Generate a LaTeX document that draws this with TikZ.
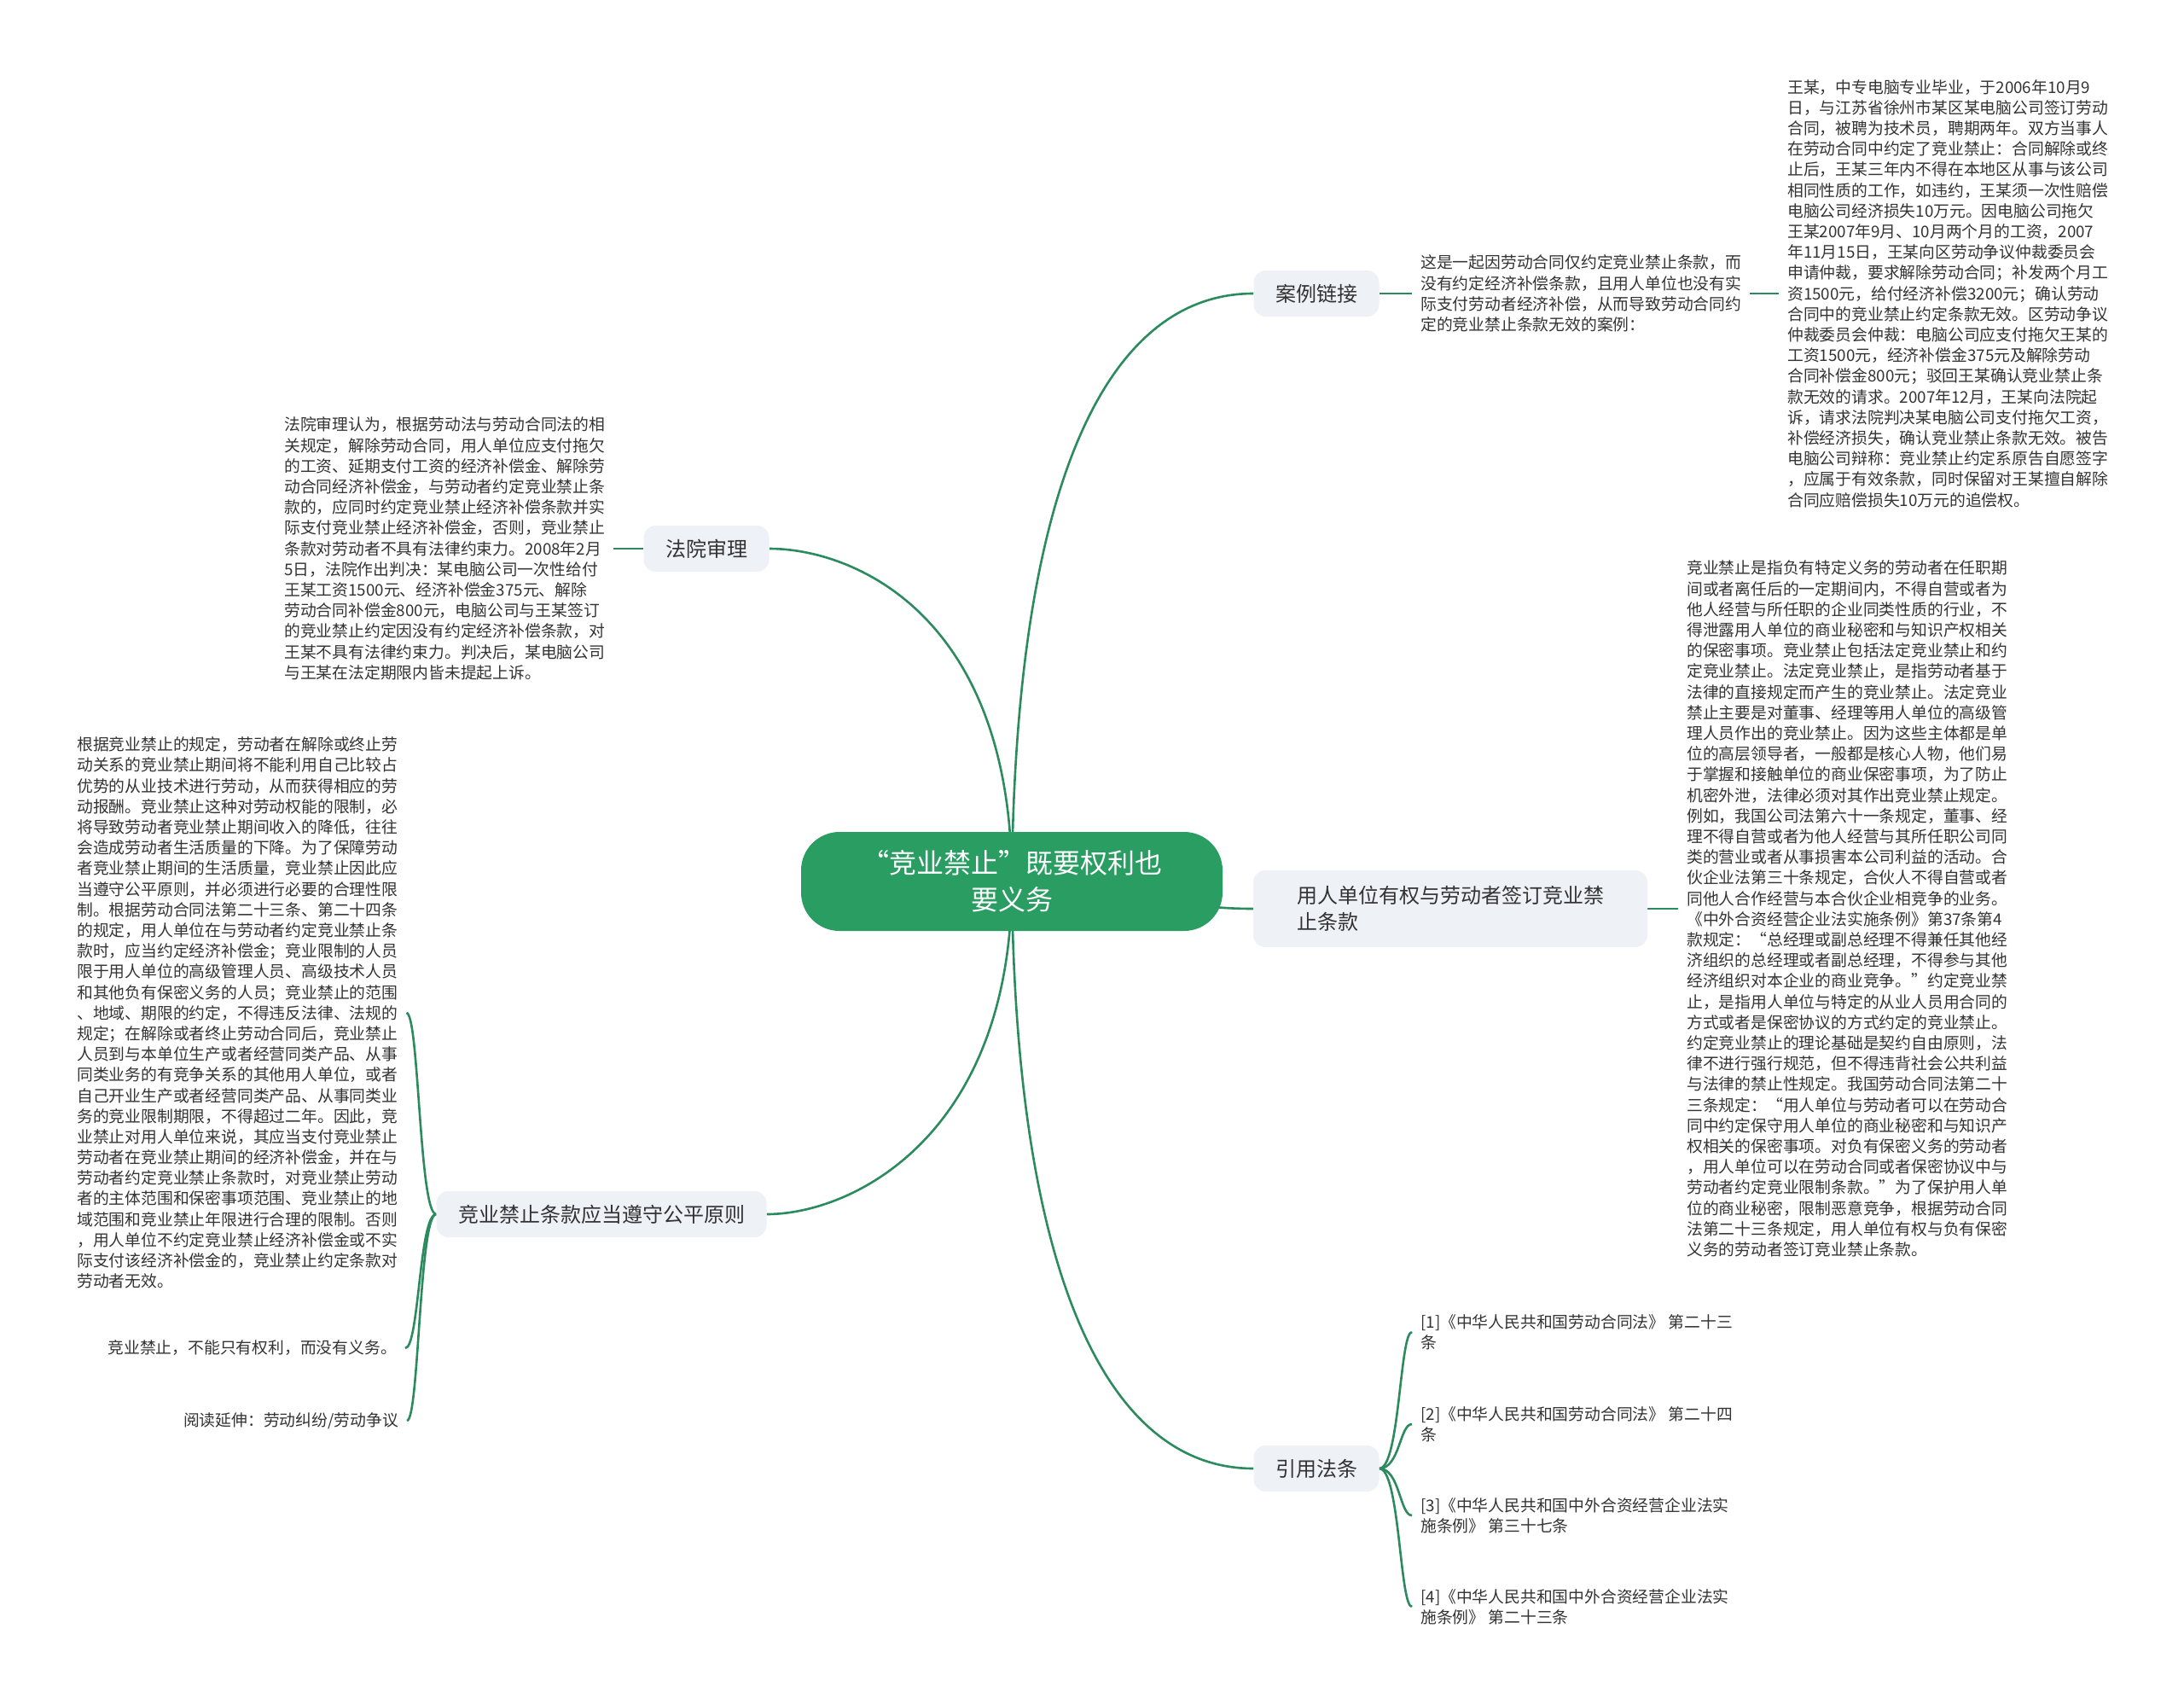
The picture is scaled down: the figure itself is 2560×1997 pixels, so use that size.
\documentclass[tikz,border=0pt]{standalone}
\usepackage{fontspec}
\setmainfont{Noto Sans CJK SC}
\usetikzlibrary{calc}
\pgfdeclarelayer{paper}
\pgfdeclarelayer{bg}
\pgfsetlayers{paper,bg,main}
\definecolor{rootgreen}{HTML}{2A9D63}
\definecolor{linegreen}{HTML}{2B8A5E}
\definecolor{branchfill}{HTML}{EEF1F6}
\definecolor{txt}{HTML}{333333}
\begin{document}
\begin{tikzpicture}[x=1pt,y=-1pt,
  rootbox/.style={fill=rootgreen, rounded corners=45pt, minimum width=494pt, minimum height=116pt, text=white, align=center, font=\fontsize{32}{43}\selectfont, inner sep=0pt},
  branchbox/.style={fill=branchfill, rounded corners=14pt, minimum height=54pt, text=txt, font=\fontsize{24}{31}\selectfont, inner sep=0pt, align=left},
  leaf/.style={text=txt, font=\fontsize{18.8}{24.2}\selectfont, align=left, inner xsep=10pt, inner ysep=0pt},
  conn/.style={draw=linegreen, line width=2.6pt},
]
\begin{pgfonlayer}{paper}
\fill[white] (0,0) rectangle (2560,1997);
\end{pgfonlayer}
\useasboundingbox (0,0) rectangle (2560,1997);

% root and branches
\node[rootbox] (root) at (1186,1033) {“竞业禁止”既要权利也\\要义务};
\node[branchbox, minimum width=147pt] (case) at (1543,344) {案例链接};
\node[branchbox, minimum width=147pt] (court) at (828,643) {法院审理};
\node[branchbox, minimum width=462pt, minimum height=90pt] (employer) at (1700,1065) {用人单位有权与劳动者签订竞业禁\\止条款};
\node[branchbox, minimum width=387pt] (fair) at (705,1423) {竞业禁止条款应当遵守公平原则};
\node[branchbox, minimum width=147pt] (cite) at (1543,1721) {引用法条};

% leaves
\node[leaf, anchor=west] (caseMid) at (1655,344) {这是一起因劳动合同仅约定竞业禁止条款，而\\没有约定经济补偿条款，且用人单位也没有实\\际支付劳动者经济补偿，从而导致劳动合同约\\定的竞业禁止条款无效的案例：};
\node[leaf, anchor=west] (caseText) at (2085,344) {王某，中专电脑专业毕业，于2006年10月9\\日，与江苏省徐州市某区某电脑公司签订劳动\\合同，被聘为技术员，聘期两年。双方当事人\\在劳动合同中约定了竞业禁止：合同解除或终\\止后，王某三年内不得在本地区从事与该公司\\相同性质的工作，如违约，王某须一次性赔偿\\电脑公司经济损失10万元。因电脑公司拖欠\\王某2007年9月、10月两个月的工资，2007\\年11月15日，王某向区劳动争议仲裁委员会\\申请仲裁，要求解除劳动合同；补发两个月工\\资1500元，给付经济补偿3200元；确认劳动\\合同中的竞业禁止约定条款无效。区劳动争议\\仲裁委员会仲裁：电脑公司应支付拖欠王某的\\工资1500元，经济补偿金375元及解除劳动\\合同补偿金800元；驳回王某确认竞业禁止条\\款无效的请求。2007年12月，王某向法院起\\诉，请求法院判决某电脑公司支付拖欠工资，\\补偿经济损失，确认竞业禁止条款无效。被告\\电脑公司辩称：竞业禁止约定系原告自愿签字\\，应属于有效条款，同时保留对王某擅自解除\\合同应赔偿损失10万元的追偿权。};
\node[leaf, anchor=west] (courtText) at (323,643) {法院审理认为，根据劳动法与劳动合同法的相\\关规定，解除劳动合同，用人单位应支付拖欠\\的工资、延期支付工资的经济补偿金、解除劳\\动合同经济补偿金，与劳动者约定竞业禁止条\\款的，应同时约定竞业禁止经济补偿条款并实\\际支付竞业禁止经济补偿金，否则，竞业禁止\\条款对劳动者不具有法律约束力。2008年2月\\5日，法院作出判决：某电脑公司一次性给付\\王某工资1500元、经济补偿金375元、解除\\劳动合同补偿金800元，电脑公司与王某签订\\的竞业禁止约定因没有约定经济补偿条款，对\\王某不具有法律约束力。判决后，某电脑公司\\与王某在法定期限内皆未提起上诉。};
\node[leaf, anchor=west] (empText) at (1967,1065) {竞业禁止是指负有特定义务的劳动者在任职期\\间或者离任后的一定期间内，不得自营或者为\\他人经营与所任职的企业同类性质的行业，不\\得泄露用人单位的商业秘密和与知识产权相关\\的保密事项。竞业禁止包括法定竞业禁止和约\\定竞业禁止。法定竞业禁止，是指劳动者基于\\法律的直接规定而产生的竞业禁止。法定竞业\\禁止主要是对董事、经理等用人单位的高级管\\理人员作出的竞业禁止。因为这些主体都是单\\位的高层领导者，一般都是核心人物，他们易\\于掌握和接触单位的商业保密事项，为了防止\\机密外泄，法律必须对其作出竞业禁止规定。\\例如，我国公司法第六十一条规定，董事、经\\理不得自营或者为他人经营与其所任职公司同\\类的营业或者从事损害本公司利益的活动。合\\伙企业法第三十条规定，合伙人不得自营或者\\同他人合作经营与本合伙企业相竞争的业务。\\《中外合资经营企业法实施条例》第37条第4\\款规定：“总经理或副总经理不得兼任其他经\\济组织的总经理或者副总经理，不得参与其他\\经济组织对本企业的商业竞争。”约定竞业禁\\止，是指用人单位与特定的从业人员用合同的\\方式或者是保密协议的方式约定的竞业禁止。\\约定竞业禁止的理论基础是契约自由原则，法\\律不进行强行规范，但不得违背社会公共利益\\与法律的禁止性规定。我国劳动合同法第二十\\三条规定：“用人单位与劳动者可以在劳动合\\同中约定保守用人单位的商业秘密和与知识产\\权相关的保密事项。对负有保密义务的劳动者\\，用人单位可以在劳动合同或者保密协议中与\\劳动者约定竞业限制条款。”为了保护用人单\\位的商业秘密，限制恶意竞争，根据劳动合同\\法第二十三条规定，用人单位有权与负有保密\\义务的劳动者签订竞业禁止条款。};
\node[leaf, anchor=west] (fairText) at (80,1187) {根据竞业禁止的规定，劳动者在解除或终止劳\\动关系的竞业禁止期间将不能利用自己比较占\\优势的从业技术进行劳动，从而获得相应的劳\\动报酬。竞业禁止这种对劳动权能的限制，必\\将导致劳动者竞业禁止期间收入的降低，往往\\会造成劳动者生活质量的下降。为了保障劳动\\者竞业禁止期间的生活质量，竞业禁止因此应\\当遵守公平原则，并必须进行必要的合理性限\\制。根据劳动合同法第二十三条、第二十四条\\的规定，用人单位在与劳动者约定竞业禁止条\\款时，应当约定经济补偿金；竞业限制的人员\\限于用人单位的高级管理人员、高级技术人员\\和其他负有保密义务的人员；竞业禁止的范围\\、地域、期限的约定，不得违反法律、法规的\\规定；在解除或者终止劳动合同后，竞业禁止\\人员到与本单位生产或者经营同类产品、从事\\同类业务的有竞争关系的其他用人单位，或者\\自己开业生产或者经营同类产品、从事同类业\\务的竞业限制期限，不得超过二年。因此，竞\\业禁止对用人单位来说，其应当支付竞业禁止\\劳动者在竞业禁止期间的经济补偿金，并在与\\劳动者约定竞业禁止条款时，对竞业禁止劳动\\者的主体范围和保密事项范围、竞业禁止的地\\域范围和竞业禁止年限进行合理的限制。否则\\，用人单位不约定竞业禁止经济补偿金或不实\\际支付该经济补偿金的，竞业禁止约定条款对\\劳动者无效。};
\node[leaf, anchor=east] (fairNote) at (475,1580) {竞业禁止，不能只有权利，而没有义务。};
\node[leaf, anchor=east] (fairRead) at (477,1665) {阅读延伸：劳动纠纷/劳动争议};
\node[leaf, anchor=west] (cite1) at (1655,1561) {[1]《中华人民共和国劳动合同法》 第二十三\\条};
\node[leaf, anchor=west] (cite2) at (1655,1669) {[2]《中华人民共和国劳动合同法》 第二十四\\条};
\node[leaf, anchor=west] (cite3) at (1655,1776) {[3]《中华人民共和国中外合资经营企业法实\\施条例》 第三十七条};
\node[leaf, anchor=west] (cite4) at (1655,1883) {[4]《中华人民共和国中外合资经营企业法实\\施条例》 第二十三条};

\coordinate (fairJ) at ($(fair.west)+(-20,0)$);
\coordinate (citeJ) at ($(cite.east)+(24,0)$);

\begin{pgfonlayer}{bg}
  \draw[conn] (root.center) .. controls (1190,560) and (1300,344) .. (case.west);
  \draw[conn] (root.center) .. controls (1186,720) and (1000,643) .. (court.east);
  \draw[conn] (root.center) .. controls (1300,1033) and (1360,1065) .. (employer.west);
  \draw[conn] (root.center) .. controls (1186,1330) and (1000,1423) .. (fair.east);
  \draw[conn] (root.center) .. controls (1190,1500) and (1300,1721) .. (cite.west);

  \draw[conn] (case.east) -- (caseMid.west);
  \draw[conn] (caseMid.east) -- (caseText.west);
  \draw[conn] (court.west) -- (courtText.east);
  \draw[conn] (employer.east) -- (empText.west);

  \draw[conn] (fair.west) .. controls (fairJ) and (fairJ |- fairText.east) .. (fairText.east);
  \draw[conn] (fair.west) .. controls (fairJ) and (fairJ |- fairNote.east) .. (fairNote.east);
  \draw[conn] (fair.west) .. controls (fairJ) and (fairJ |- fairRead.east) .. (fairRead.east);

  \draw[conn] (cite.east) .. controls (citeJ) and (citeJ |- cite1.west) .. (cite1.west);
  \draw[conn] (cite.east) .. controls (citeJ) and (citeJ |- cite2.west) .. (cite2.west);
  \draw[conn] (cite.east) .. controls (citeJ) and (citeJ |- cite3.west) .. (cite3.west);
  \draw[conn] (cite.east) .. controls (citeJ) and (citeJ |- cite4.west) .. (cite4.west);
\end{pgfonlayer}
\end{tikzpicture}
\end{document}
